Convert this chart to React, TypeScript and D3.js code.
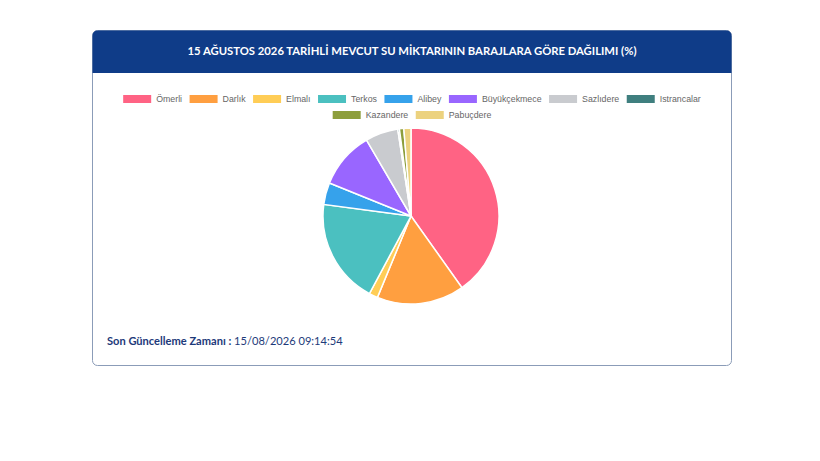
import React, { useEffect, useRef } from "react";
import * as d3 from "d3";

const dams = ["Ömerli", "Darlık", "Elmalı", "Terkos", "Alibey", "Büyükçekmece", "Sazlıdere", "Istrancalar", "Kazandere", "Pabuçdere"];
const shares = [40.0, 16.0, 1.6, 19.2, 4.0, 10.4, 6.0, 0.3, 0.8, 1.3];
const colors = ["#ff6384", "#ff9f40", "#ffcd56", "#4bc0c0", "#36a2eb", "#9966ff", "#c9cbcf", "#3f7f7f", "#8d9e3c", "#ecd27f"];
const legendRows = [[0, 1, 2, 3, 4, 5, 6, 7], [8, 9]];
const title = "15 AĞUSTOS 2026 TARİHLİ MEVCUT SU MİKTARININ BARAJLARA GÖRE DAĞILIMI (%)";
const footLabel = "Son Güncelleme Zamanı :";
const footValue = "15/08/2026 09:14:54";

export default function App() {
  const ref = useRef<SVGSVGElement>(null);
  useEffect(() => {
    const svg = d3.select(ref.current);
    svg.selectAll("*").remove();
    const cx0 = 92, cy0 = 30, cw = 639, ch = 335;
    const navy = "#0f3c88";

    // card
    svg.append("rect").attr("x", cx0 + 0.5).attr("y", cy0 + 0.5).attr("width", cw).attr("height", ch)
      .attr("rx", 5).attr("fill", "#fff").attr("stroke", "#8b9cb8").attr("stroke-width", 1);
    const hh = 43;
    const hp = d3.path();
    const r = 5, x0 = cx0 + 0.5, y0 = cy0 + 0.5, x1 = cx0 + cw + 0.5, y1 = cy0 + hh;
    hp.moveTo(x0, y1); hp.lineTo(x0, y0 + r); hp.arcTo(x0, y0, x0 + r, y0, r);
    hp.lineTo(x1 - r, y0); hp.arcTo(x1, y0, x1, y0 + r, r); hp.lineTo(x1, y1); hp.closePath();
    svg.append("path").attr("d", hp.toString()).attr("fill", navy);
    svg.append("text").attr("x", cx0 + cw / 2 + 0.5).attr("y", 55).attr("text-anchor", "middle")
      .attr("fill", "#fff").attr("font-family", "Lato, 'Open Sans', sans-serif").attr("font-weight", 700)
      .attr("font-size", 11.2).attr("textLength", 449).attr("lengthAdjust", "spacingAndGlyphs").text(title);

    // legend
    const boxW = 28, boxH = 8, tgap = 5, igap = 7.5;
    const fs = 8.8;
    const font = "'Liberation Sans', Arial, sans-serif";
    const rowY = [99, 115];
    legendRows.forEach((row, ri) => {
      const g = svg.append("g");
      const widths: number[] = [];
      row.forEach((i) => {
        const t = g.append("text").attr("font-family", font).attr("font-size", fs).attr("fill", "#666").text(dams[i]);
        widths.push((t.node() as SVGTextElement).getComputedTextLength());
        t.remove();
      });
      const total = d3.sum(widths.map((w) => boxW + tgap + w)) + igap * (row.length - 1);
      let x = 412 - total / 2;
      row.forEach((i, k) => {
        g.append("rect").attr("x", x).attr("y", rowY[ri] - boxH / 2).attr("width", boxW).attr("height", boxH).attr("fill", colors[i]);
        g.append("text").attr("x", x + boxW + tgap).attr("y", rowY[ri]).attr("dy", "0.35em")
          .attr("font-family", font).attr("font-size", fs).attr("fill", "#666").text(dams[i]);
        x += boxW + tgap + widths[k] + igap;
      });
    });

    // pie
    const pie = d3.pie<number>().sort(null).value((d) => d);
    const arc = d3.arc<d3.PieArcDatum<number>>().innerRadius(0).outerRadius(88);
    const pg = svg.append("g").attr("transform", "translate(411,216)");
    pg.selectAll("path").data(pie(shares)).join("path")
      .attr("d", arc as any).attr("fill", (_d, i) => colors[i]).attr("stroke", "#fff").attr("stroke-width", 1.5);

    // footer
    const ft = svg.append("text").attr("x", 107).attr("y", 345).attr("font-family", "Lato, Inter, sans-serif")
      .attr("font-size", 11.1).attr("fill", "#1d3a7a");
    ft.append("tspan").attr("font-weight", 700).text(footLabel);
    ft.append("tspan").attr("font-weight", 400).text(" " + footValue);
  }, []);
  return (
    <svg ref={ref} width={820} height={461} style={{ position: "absolute", left: 0, top: 0, background: "#fff" }} />
  );
}
